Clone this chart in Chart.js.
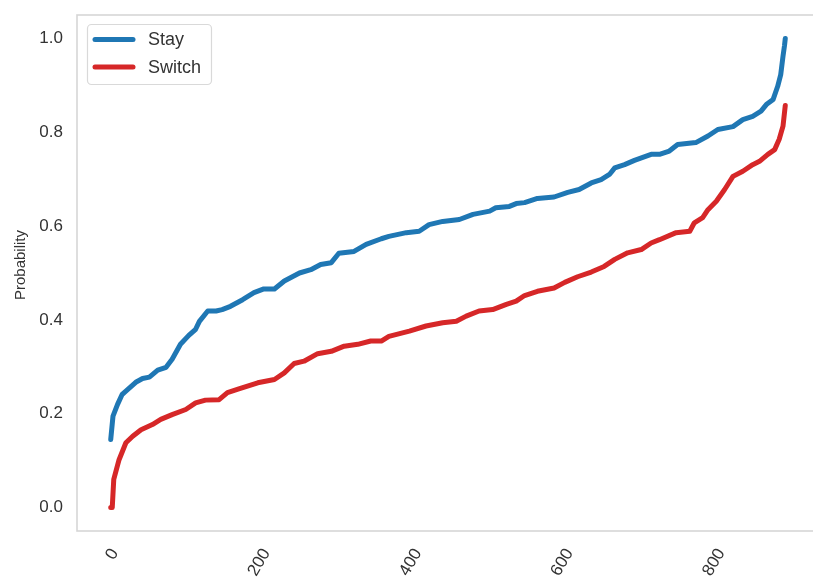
<!DOCTYPE html>
<html>
<head>
<meta charset="utf-8">
<script src="https://cdn.jsdelivr.net/npm/chart.js@4.4.1/dist/chart.umd.min.js"></script>
<style>
  html, body { margin: 0; padding: 0; background: #fff; overflow: hidden; }
  #wrap { width: 830px; height: 588px; position: relative; }
</style>
</head>
<body>
<div id="wrap"><canvas id="chart" width="830" height="588"></canvas></div>
<script>
// Sorted predicted probabilities per passenger (index -> probability)
const stayIdx = [0,3,9,15,20,33,42,51,62,73,81,92,103,112,117,128,139,147,158,174,189,202,216,229,249,264,277,291,301,321,337,357,367,390,407,420,438,460,478,500,508,526,535,546,563,585,603,618,634,647,658,665,678,691,713,724,737,748,772,788,801,821,834,847,858,865,874,880,884,887,889,890];
const stayProb = [0.145,0.195,0.220,0.241,0.248,0.267,0.275,0.278,0.293,0.299,0.316,0.348,0.367,0.380,0.397,0.419,0.419,0.422,0.429,0.443,0.458,0.466,0.466,0.483,0.500,0.507,0.518,0.522,0.542,0.546,0.561,0.573,0.578,0.586,0.589,0.603,0.610,0.614,0.625,0.632,0.639,0.642,0.648,0.650,0.659,0.662,0.672,0.678,0.692,0.699,0.710,0.724,0.731,0.740,0.753,0.753,0.760,0.774,0.778,0.792,0.806,0.812,0.827,0.834,0.845,0.859,0.870,0.898,0.923,0.962,0.985,1.0];

const switchIdx = [0,2,4,11,20,29,40,55,66,81,99,112,125,143,154,169,194,216,229,242,255,273,291,308,326,343,357,367,394,416,438,456,469,486,504,522,535,546,563,585,599,616,634,651,665,682,700,713,724,746,764,770,781,788,799,810,821,834,847,856,867,876,882,887,890];
const switchProb = [0.0,0.0,0.060,0.102,0.138,0.152,0.166,0.177,0.188,0.198,0.209,0.223,0.229,0.230,0.245,0.253,0.266,0.273,0.287,0.307,0.312,0.328,0.333,0.344,0.348,0.355,0.355,0.365,0.376,0.387,0.394,0.397,0.408,0.419,0.422,0.433,0.440,0.452,0.461,0.468,0.480,0.492,0.502,0.514,0.529,0.543,0.550,0.564,0.571,0.586,0.589,0.607,0.618,0.635,0.653,0.678,0.706,0.717,0.731,0.738,0.753,0.763,0.785,0.813,0.857];

const seriesNames = ['Stay', 'Switch'];
const yAxisLabel = 'Probability';
const xTicks = [0, 200, 400, 600, 800];
const yTicks = [0.0, 0.2, 0.4, 0.6, 0.8, 1.0];

const FONT = '"Liberation Sans", Arial, Helvetica, sans-serif';
const TEXT = '#333333';
const BLUE = '#1f77b4';
const RED = '#d62728';

const toPoints = (xs, ys) => xs.map((x, i) => ({ x: x, y: ys[i] }));
const noScalePadding = (s) => { s.paddingTop = 0; s.paddingBottom = 0; s.paddingLeft = 0; s.paddingRight = 0; };

// Light frame around the plotting area
const framePlugin = {
  id: 'frame',
  beforeDatasetsDraw(chart) {
    const a = chart.chartArea, ctx = chart.ctx;
    ctx.save();
    ctx.strokeStyle = '#d6d6d6';
    ctx.lineWidth = 1.6;
    ctx.strokeRect(a.left, a.top, a.right - a.left, a.bottom - a.top);
    ctx.restore();
  }
};

// Vertical axis label, centred slightly above the middle of the y axis
const yLabelPlugin = {
  id: 'yLabel',
  afterDraw(chart) {
    const ctx = chart.ctx;
    ctx.save();
    ctx.translate(21, 265);
    ctx.rotate(-Math.PI / 2);
    ctx.fillStyle = TEXT;
    ctx.font = '15px ' + FONT;
    ctx.textAlign = 'center';
    ctx.textBaseline = 'middle';
    ctx.fillText(yAxisLabel, 0, 0);
    ctx.restore();
  }
};

// Boxed legend in the upper-left corner of the plot
const legendBoxPlugin = {
  id: 'legendBox',
  afterDraw(chart) {
    const ctx = chart.ctx;
    const bx = 87.5, by = 24.5, bw = 124, bh = 60;
    ctx.save();
    ctx.beginPath();
    ctx.roundRect(bx, by, bw, bh, 4);
    ctx.fillStyle = 'rgba(255,255,255,0.85)';
    ctx.fill();
    ctx.strokeStyle = '#d9d9d9';
    ctx.lineWidth = 1.2;
    ctx.stroke();
    chart.data.datasets.forEach((ds, i) => {
      const cy = 39.5 + i * 27.5;
      ctx.beginPath();
      ctx.moveTo(95, cy);
      ctx.lineTo(133, cy);
      ctx.strokeStyle = ds.borderColor;
      ctx.lineWidth = 5;
      ctx.lineCap = 'round';
      ctx.stroke();
      ctx.fillStyle = TEXT;
      ctx.font = '18px ' + FONT;
      ctx.textBaseline = 'middle';
      ctx.textAlign = 'left';
      ctx.fillText(ds.label, 148, cy + 1);
    });
    ctx.restore();
  }
};

new Chart(document.getElementById('chart'), {
  type: 'line',
  data: {
    datasets: [
      {
        label: seriesNames[0],
        data: toPoints(stayIdx, stayProb),
        borderColor: BLUE,
        backgroundColor: BLUE,
        borderWidth: 5,
        borderCapStyle: 'round',
        borderJoinStyle: 'round',
        pointRadius: 0,
        tension: 0,
        fill: false
      },
      {
        label: seriesNames[1],
        data: toPoints(switchIdx, switchProb),
        borderColor: RED,
        backgroundColor: RED,
        borderWidth: 5,
        borderCapStyle: 'round',
        borderJoinStyle: 'round',
        pointRadius: 0,
        tension: 0,
        fill: false
      }
    ]
  },
  options: {
    responsive: false,
    animation: false,
    layout: { padding: { left: 0, top: 15, right: 11, bottom: 0 } },
    plugins: { legend: { display: false }, tooltip: { enabled: false } },
    scales: {
      x: {
        type: 'linear',
        min: -44.5,
        max: 934.5,
        grid: { display: false, drawTicks: false },
        border: { display: false },
        afterBuildTicks: (s) => { s.ticks = xTicks.map(v => ({ value: v })); },
        afterFit: (s) => { s.height = 57; noScalePadding(s); },
        ticks: {
          autoSkip: false,
          minRotation: 60,
          maxRotation: 60,
          padding: 14,
          labelOffset: 4,
          color: TEXT,
          font: { family: FONT, size: 17 },
          callback: (v) => String(v)
        }
      },
      y: {
        type: 'linear',
        min: -0.05,
        max: 1.05,
        grid: { display: false, drawTicks: false },
        border: { display: false },
        afterBuildTicks: (s) => { s.ticks = yTicks.map(v => ({ value: v })); },
        afterFit: (s) => { s.width = 77; noScalePadding(s); },
        ticks: {
          padding: 14,
          color: TEXT,
          font: { family: FONT, size: 17 },
          callback: (v) => Number(v).toFixed(1)
        }
      }
    }
  },
  plugins: [framePlugin, yLabelPlugin, legendBoxPlugin]
});
</script>
</body>
</html>
